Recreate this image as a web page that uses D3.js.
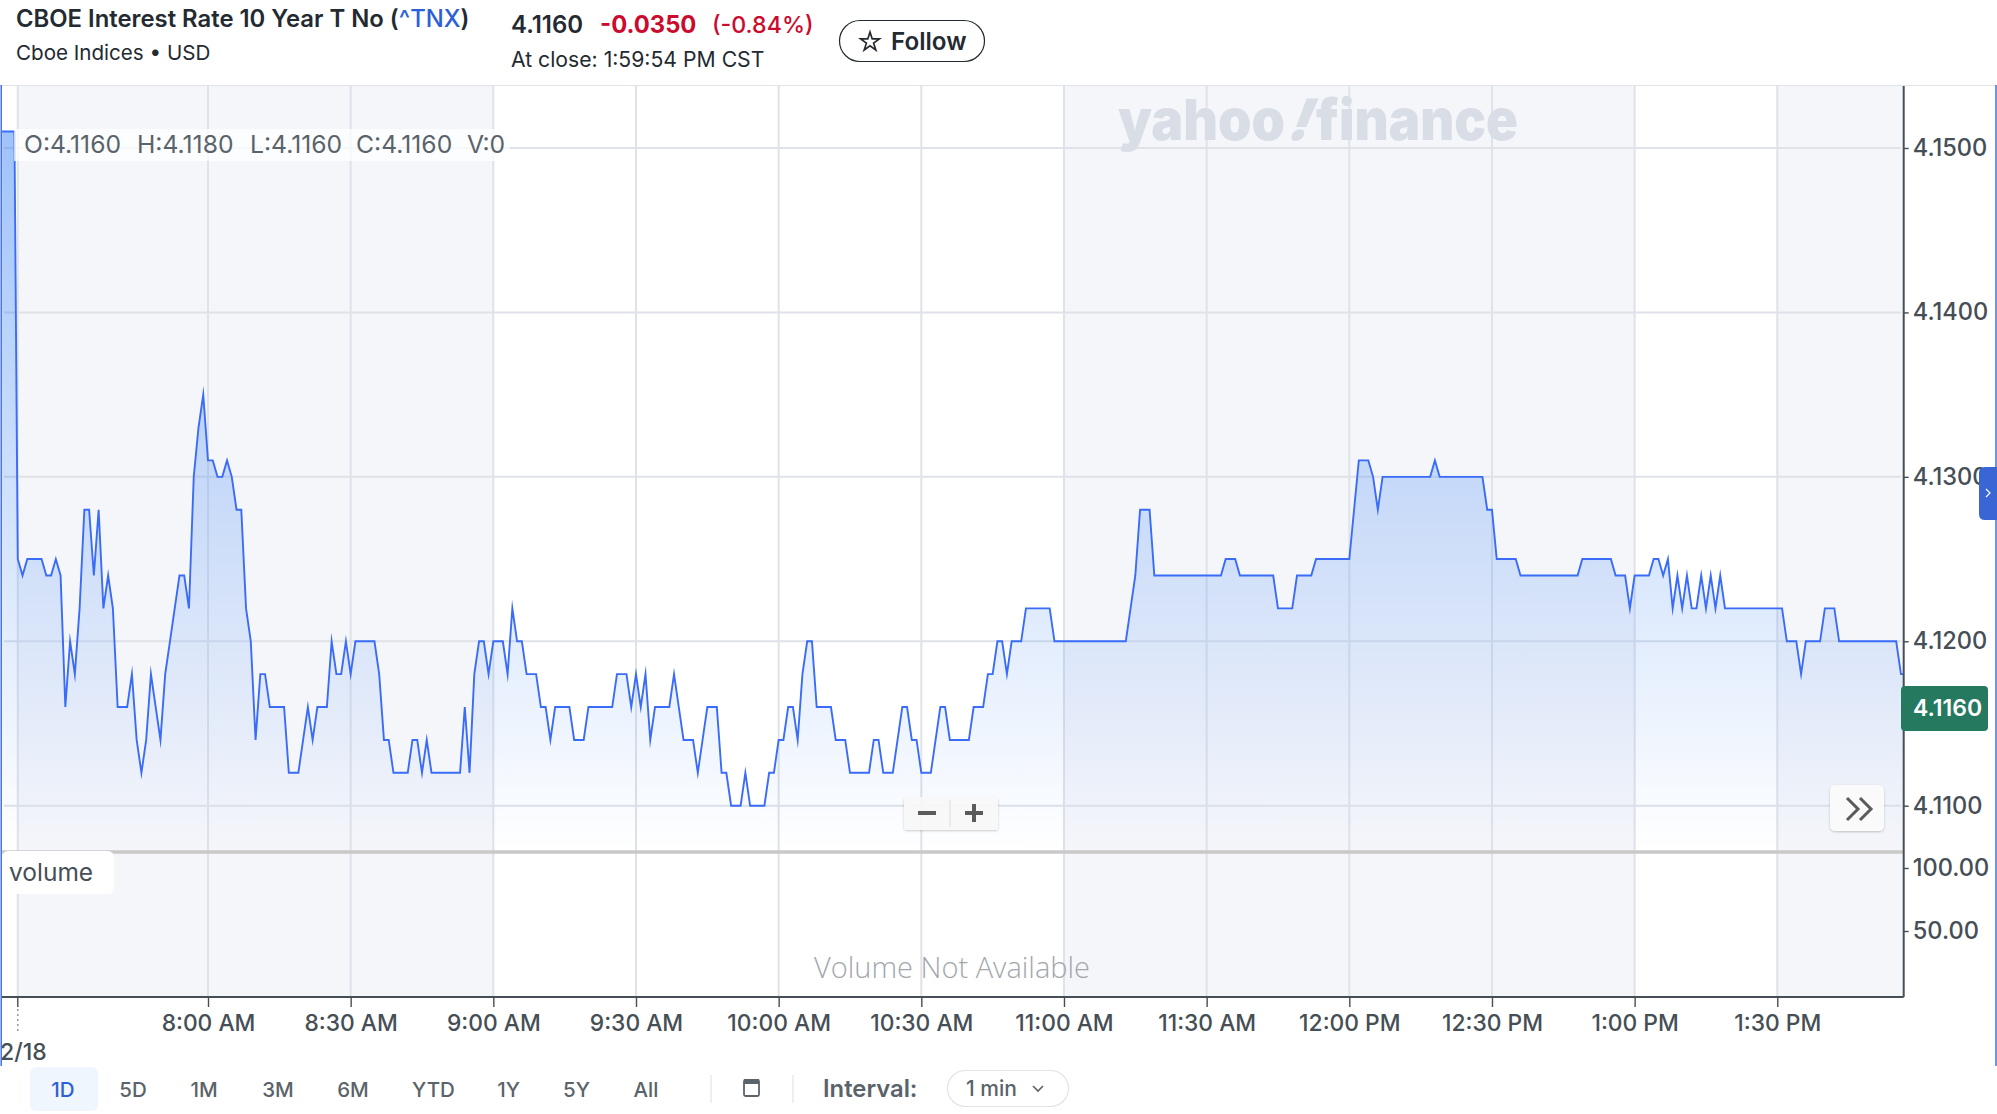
<!DOCTYPE html>
<html><head><meta charset="utf-8">
<script src="https://cdn.jsdelivr.net/npm/d3@7"></script>
<style>html,body{margin:0;padding:0;background:#fff;overflow:hidden}svg{display:block}text{font-family:Inter,"Noto Sans",sans-serif}</style>
</head><body><div id="chart"></div>
<script>
const leadMinutes=[-43.3,-40.7];
const leadValues=[4.151,4.151];
const firstMinute=-40;
const prices=[
4.125,4.124,4.125,4.125,4.125,4.125,4.124,4.124,4.125,4.124,
4.116,4.12,4.118,4.122,4.128,4.128,4.124,4.128,4.122,4.124,
4.122,4.116,4.116,4.116,4.118,4.114,4.112,4.114,4.118,4.116,
4.114,4.118,4.12,4.122,4.124,4.124,4.122,4.13,4.133,4.135,
4.131,4.131,4.13,4.13,4.131,4.13,4.128,4.128,4.122,4.12,
4.114,4.118,4.118,4.116,4.116,4.116,4.116,4.112,4.112,4.112,
4.114,4.116,4.114,4.116,4.116,4.116,4.12,4.118,4.118,4.12,
4.118,4.12,4.12,4.12,4.12,4.12,4.118,4.114,4.114,4.112,
4.112,4.112,4.112,4.114,4.114,4.112,4.114,4.112,4.112,4.112,
4.112,4.112,4.112,4.112,4.116,4.112,4.118,4.12,4.12,4.118,
4.12,4.12,4.12,4.118,4.122,4.12,4.12,4.118,4.118,4.118,
4.116,4.116,4.114,4.116,4.116,4.116,4.116,4.114,4.114,4.114,
4.116,4.116,4.116,4.116,4.116,4.116,4.118,4.118,4.118,4.116,
4.118,4.116,4.118,4.114,4.116,4.116,4.116,4.116,4.118,4.116,
4.114,4.114,4.114,4.112,4.114,4.116,4.116,4.116,4.112,4.112,
4.11,4.11,4.11,4.112,4.11,4.11,4.11,4.11,4.112,4.112,
4.114,4.114,4.116,4.116,4.114,4.118,4.12,4.12,4.116,4.116,
4.116,4.116,4.114,4.114,4.114,4.112,4.112,4.112,4.112,4.112,
4.114,4.114,4.112,4.112,4.112,4.114,4.116,4.116,4.114,4.114,
4.112,4.112,4.112,4.114,4.116,4.116,4.114,4.114,4.114,4.114,
4.114,4.116,4.116,4.116,4.118,4.118,4.12,4.12,4.118,4.12,
4.12,4.12,4.122,4.122,4.122,4.122,4.122,4.122,4.12,4.12,
4.12,4.12,4.12,4.12,4.12,4.12,4.12,4.12,4.12,4.12,
4.12,4.12,4.12,4.12,4.122,4.124,4.128,4.128,4.128,4.124,
4.124,4.124,4.124,4.124,4.124,4.124,4.124,4.124,4.124,4.124,
4.124,4.124,4.124,4.124,4.125,4.125,4.125,4.124,4.124,4.124,
4.124,4.124,4.124,4.124,4.124,4.122,4.122,4.122,4.122,4.124,
4.124,4.124,4.124,4.125,4.125,4.125,4.125,4.125,4.125,4.125,
4.125,4.128,4.131,4.131,4.131,4.13,4.128,4.13,4.13,4.13,
4.13,4.13,4.13,4.13,4.13,4.13,4.13,4.13,4.131,4.13,
4.13,4.13,4.13,4.13,4.13,4.13,4.13,4.13,4.13,4.128,
4.128,4.125,4.125,4.125,4.125,4.125,4.124,4.124,4.124,4.124,
4.124,4.124,4.124,4.124,4.124,4.124,4.124,4.124,4.124,4.125,
4.125,4.125,4.125,4.125,4.125,4.125,4.124,4.124,4.124,4.122,
4.124,4.124,4.124,4.124,4.125,4.125,4.124,4.125,4.122,4.124,
4.122,4.124,4.122,4.122,4.124,4.122,4.124,4.122,4.124,4.122,
4.122,4.122,4.122,4.122,4.122,4.122,4.122,4.122,4.122,4.122,
4.122,4.122,4.12,4.12,4.12,4.118,4.12,4.12,4.12,4.12,
4.122,4.122,4.122,4.12,4.12,4.12,4.12,4.12,4.12,4.12,
4.12,4.12,4.12,4.12,4.12,4.12,4.118,4.118
];
const tickMinutes=[0,30,60,90,120,150,180,210,240,270,300,330];
const tickLabels=["8:00 AM","8:30 AM","9:00 AM","9:30 AM","10:00 AM","10:30 AM","11:00 AM","11:30 AM","12:00 PM","12:30 PM","1:00 PM","1:30 PM"];
const sessionStart=-40;
const shadedSpans=[[-40,60],[180,300],[330,357]];
const priceTicks=[4.15,4.14,4.13,4.12,4.11];
const volumeTicks=[100,50];
const ranges=["1D","5D","1M","3M","6M","YTD","1Y","5Y","All"];
const ohlc=["O:4.1160","H:4.1180","L:4.1160","C:4.1160","V:0"];
const lastPrice=4.116;

const W=1997,H=1114;
const plot={left:2,right:1903.7,top:85,main:852,bottom:997};
const svg=d3.select("#chart").append("svg").attr("width",W).attr("height",H);
const x=d3.scaleLinear().domain([0,330]).range([208,1777.3]);
const y=d3.scaleLinear().domain([4.15,4.11]).range([148,805.7]);
const yv=d3.scaleLinear().domain([100,50]).range([868,931]);
const TXT="#464e56";

function label(s,px,py,size,o={}){
  const t=svg.append("text").attr("x",px).attr("y",py).text(s).attr("font-size",size)
    .attr("fill",o.fill||TXT).attr("font-weight",o.weight||400).attr("text-anchor",o.anchor||"start");
  if(o.family)t.style("font-family",o.family);
  if(o.len)t.attr("textLength",o.len).attr("lengthAdjust","spacingAndGlyphs");
  return t;
}

const defs=svg.append("defs");
defs.append("clipPath").attr("id","plotClip").append("rect")
  .attr("x",plot.left).attr("y",plot.top).attr("width",plot.right-plot.left).attr("height",plot.main-plot.top);
const grad=defs.append("linearGradient").attr("id","areaFill").attr("gradientUnits","userSpaceOnUse")
  .attr("x1",0).attr("x2",0).attr("y1",y(4.151)).attr("y2",plot.main);
grad.append("stop").attr("offset",0).attr("stop-color","#3f86f5").attr("stop-opacity",0.5);
grad.append("stop").attr("offset",1).attr("stop-color","#3f86f5").attr("stop-opacity",0.0);
const blur=defs.append("filter").attr("id","soft").attr("x","-20%").attr("y","-40%").attr("width","140%").attr("height","180%");
blur.append("feDropShadow").attr("dx",0).attr("dy",1).attr("stdDeviation",1.2).attr("flood-color","#000").attr("flood-opacity",0.22);

// shaded sessions
svg.append("g").selectAll("rect").data(shadedSpans).join("rect")
  .attr("x",d=>x(d[0])).attr("width",d=>Math.min(x(d[1]),plot.right)-x(d[0]))
  .attr("y",plot.top).attr("height",plot.bottom-plot.top).attr("fill","#f5f6fa");

// grid
const grid=svg.append("g").attr("stroke","#dfe2e8").attr("stroke-width",2);
grid.selectAll(".v").data([sessionStart,...tickMinutes]).join("line").attr("class","v")
  .attr("x1",d=>x(d)).attr("x2",d=>x(d)).attr("y1",plot.top).attr("y2",plot.bottom);
grid.selectAll(".h").data(priceTicks).join("line").attr("class","h")
  .attr("x1",4).attr("x2",plot.right-3).attr("y1",d=>y(d)).attr("y2",d=>y(d));

// watermark
const WM="#d9dde5";
label("yahoo",1118,140,57,{fill:WM,weight:900,len:167});
label("finance",1316,140,57,{fill:WM,weight:900,len:202});
label("!",0,0,57,{fill:WM,weight:900}).attr("transform","translate(1285,140) skewX(-22)");

// series
const points=[...leadMinutes.map((m,i)=>({m,v:leadValues[i]})),...prices.map((v,i)=>({m:firstMinute+i,v}))];
const g=svg.append("g").attr("clip-path","url(#plotClip)");
g.append("path").datum(points).attr("fill","url(#areaFill)")
  .attr("d",d3.area().x(d=>x(d.m)).y0(plot.main).y1(d=>y(d.v)));
g.append("path").datum(points).attr("fill","none").attr("stroke","#3a6cf8").attr("stroke-width",1.9)
  .attr("stroke-miterlimit",10)
  .attr("d",d3.line().x(d=>x(d.m)).y(d=>y(d.v)));

// panel separator
svg.append("line").attr("x1",plot.left).attr("x2",plot.right).attr("y1",852).attr("y2",852)
  .attr("stroke","#c9c9c9").attr("stroke-width",3.5);

// axes
const yAxis=d3.axisRight(y).tickValues(priceTicks).tickFormat(d3.format(".4f")).tickSize(5).tickPadding(4);
const vAxis=d3.axisRight(yv).tickValues(volumeTicks).tickFormat(d3.format(".2f")).tickSize(5).tickPadding(4);
const xAxis=d3.axisBottom(x).tickValues(tickMinutes).tickFormat((d,i)=>tickLabels[i]).tickSize(10).tickPadding(8);
function style(size){return sel=>{
  sel.select(".domain").remove();
  sel.selectAll("line").attr("stroke",TXT).attr("stroke-width",1.4);
  sel.selectAll("text").attr("fill",TXT).attr("font-size",size).attr("font-weight",500).style("font-family","Inter");
};}
svg.append("g").attr("transform",`translate(${plot.right},0)`).call(yAxis).call(style(23.6));
svg.append("g").attr("transform",`translate(${plot.right},0)`).call(vAxis).call(style(23.6));
svg.append("g").attr("transform",`translate(0,${plot.bottom})`).call(xAxis).call(style(22.8));
svg.append("line").attr("x1",plot.right).attr("x2",plot.right).attr("y1",plot.top).attr("y2",plot.bottom).attr("stroke",TXT).attr("stroke-width",2);
svg.append("line").attr("x1",plot.left).attr("x2",plot.right).attr("y1",plot.bottom).attr("y2",plot.bottom).attr("stroke",TXT).attr("stroke-width",2);
svg.append("line").attr("x1",x(sessionStart)).attr("x2",x(sessionStart)).attr("y1",plot.bottom).attr("y2",plot.bottom+10).attr("stroke",TXT).attr("stroke-width",1.4);
svg.append("line").attr("x1",x(sessionStart)).attr("x2",x(sessionStart)).attr("y1",plot.bottom+12).attr("y2",plot.bottom+34)
  .attr("stroke","#8a9097").attr("stroke-width",1.4).attr("stroke-dasharray","2 3");
label("2/18",0,1060,23,{weight:500});

// header
svg.append("line").attr("x1",0).attr("x2",W).attr("y1",85.5).attr("y2",85.5).attr("stroke","#e0e3e8").attr("stroke-width",1);
const title=label("CBOE Interest Rate 10 Year T No (",16,27,23.85,{fill:"#232a31",weight:600});
title.append("tspan").text("^TNX").attr("fill","#2d5fd8").attr("font-weight",500);
title.append("tspan").text(")");
label("Cboe Indices • USD",16,60,20.6,{fill:"#232a31"});
label("4.1160",511,32.5,24,{fill:"#232a31",weight:600});
label("-0.0350",600,32.5,23.8,{fill:"#cc0a2e",weight:700});
label("(-0.84%)",712,32.5,23.2,{fill:"#cc0a2e",weight:500});
label("At close: 1:59:54 PM CST",511,67,21.2,{fill:"#232a31"});
svg.append("rect").attr("x",839.5).attr("y",20.5).attr("width",145).attr("height",41).attr("rx",20.5).attr("fill","#fff").attr("stroke","#232a31").attr("stroke-width",1.2);
svg.append("path").attr("d",d3.symbol(d3.symbolStar).size(110)()).attr("transform","translate(870,42)").attr("fill","none").attr("stroke","#232a31").attr("stroke-width",1.7);
label("Follow",891,50,24.2,{fill:"#232a31",weight:600});

// ohlc legend
svg.append("rect").attr("x",14).attr("y",129).attr("width",496).attr("height",32).attr("fill","#fff").attr("opacity",0.72);
const ohlcX=[24,137,250,356,467];
ohlc.forEach((s,i)=>label(s,ohlcX[i],153,24.7,{fill:"#5b636a"}));

// volume
svg.append("rect").attr("x",2).attr("y",851).attr("width",112).attr("height",43).attr("rx",6).attr("fill","#fff");
label("volume",9,881,24.5,{fill:"#464e56"});
label("Volume Not Available",952,977.5,29,{fill:"#a3a7ac",anchor:"middle",family:"'Open Sans'",weight:300,len:276});

// zoom buttons
svg.append("rect").attr("x",904).attr("y",797).attr("width",94).attr("height",33).attr("rx",3).attr("fill","#fafafa").attr("fill-opacity",0.92).attr("filter","url(#soft)");
svg.append("line").attr("x1",950).attr("x2",950).attr("y1",800).attr("y2",827).attr("stroke","#ddd");
svg.append("path").attr("d","M918 813H936").attr("stroke","#5b5b5b").attr("stroke-width",4);
svg.append("path").attr("d","M965 813H983M974 804V822").attr("stroke","#5b5b5b").attr("stroke-width",4);
svg.append("rect").attr("x",1830).attr("y",785).attr("width",54).attr("height",46).attr("rx",5).attr("fill","#fafafa").attr("filter","url(#soft)");
svg.append("path").attr("d","M1847 798L1858 809L1847 820M1860 798L1871 809L1860 820").attr("fill","none").attr("stroke","#5b5b5b").attr("stroke-width",3);

// last price tag
svg.append("rect").attr("x",1901).attr("y",686).attr("width",87).attr("height",45).attr("rx",4).attr("fill","#25795f");
label(d3.format(".4f")(lastPrice),1913,716,23,{fill:"#fff",weight:600});

// side tab and page edges
svg.append("path").attr("d","M1997 467H1985Q1979 467 1979 473V514Q1979 520 1985 520H1997Z").attr("fill","#3a66d5");
svg.append("path").attr("d","M1986 489L1990 493L1986 497").attr("fill","none").attr("stroke","#fff").attr("stroke-width",1.2);
svg.append("line").attr("x1",1.2).attr("x2",1.2).attr("y1",85).attr("y2",1066).attr("stroke","#3a66d5").attr("stroke-width",1.4);
svg.append("line").attr("x1",1996).attr("x2",1996).attr("y1",85).attr("y2",1066).attr("stroke","#3a66d5").attr("stroke-width",1.4);

// toolbar
const rangeX=[63,133,204,278,353,433.5,508.6,576.6,646];
svg.append("rect").attr("x",30).attr("y",1067).attr("width",68).attr("height",44).attr("rx",6).attr("fill","#f0f6fe");
ranges.forEach((s,i)=>label(s,rangeX[i],1097,20.5,{anchor:"middle",fill:i?"#5b636a":"#2d5fd8",weight:500}));
svg.append("line").attr("x1",711).attr("x2",711).attr("y1",1075).attr("y2",1103).attr("stroke","#dcdfe3");
svg.append("line").attr("x1",793).attr("x2",793).attr("y1",1075).attr("y2",1103).attr("stroke","#dcdfe3");
svg.append("rect").attr("x",744).attr("y",1080).attr("width",15).attr("height",16).attr("rx",1.5).attr("fill","none").attr("stroke","#5b636a").attr("stroke-width",1.8);
svg.append("rect").attr("x",744).attr("y",1079).attr("width",15).attr("height",5).attr("fill","#5b636a");
label("Interval:",823,1097,23.8,{fill:"#5b636a",weight:600});
svg.append("rect").attr("x",947.5).attr("y",1070.5).attr("width",121).attr("height",36).attr("rx",18).attr("fill","#fff").attr("stroke","#e0e3e8").attr("stroke-width",1.2);
label("1 min",966,1096,21,{fill:"#5b636a",weight:500});
svg.append("path").attr("d","M1033 1086L1038 1091L1043 1086").attr("fill","none").attr("stroke","#5b636a").attr("stroke-width",1.6);
</script></body></html>
